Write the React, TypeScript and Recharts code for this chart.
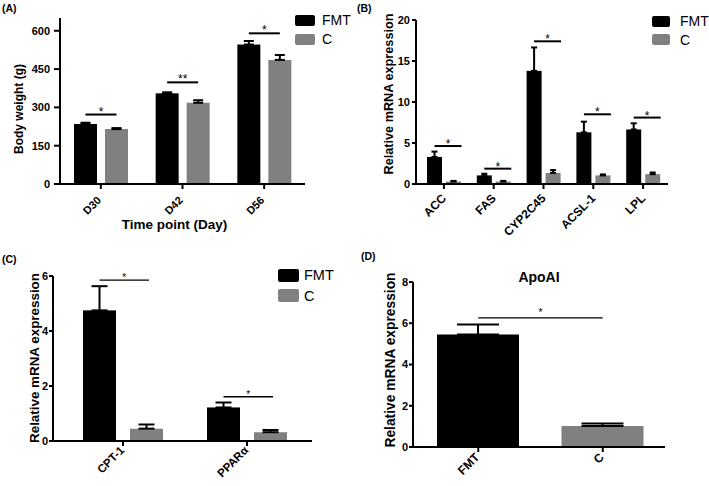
import React from 'react';
import { BarChart, Bar, XAxis, YAxis, ErrorBar, Legend, ReferenceLine, Cell } from 'recharts';

const FONT = '"Liberation Sans", Arial, sans-serif';
const FMT_COLOR = '#000000';
const C_COLOR = '#808080';
const seriesOrder = ['FMT', 'C'];

// (A) body weight by time point
const daysA = ['D30', 'D42', 'D56'];
const fmtA = [235, 355, 546];
const fmtErrA = [5, 4, 14];
const ctrlA = [215, 318, 486];
const ctrlErrA = [4, 10, 19];
const sigA = [272, 398, 590];
const starsA = ['*', '**', '*'];
const ticksA = [0, 150, 300, 450, 600];

// (B) lipogenic genes
const genesB = ['ACC', 'FAS', 'CYP2C45', 'ACSL-1', 'LPL'];
const fmtB = [3.3, 1.05, 13.8, 6.3, 6.65];
const fmtErrB = [0.65, 0.2, 2.85, 1.3, 0.75];
const ctrlB = [0.3, 0.3, 1.35, 1.05, 1.2];
const ctrlErrB = [0.08, 0.08, 0.35, 0.12, 0.2];
const sigB = [4.63, 1.87, 17.4, 8.5, 8.1];
const starsB = ['*', '*', '*', '*', '*'];
const ticksB = [0, 5, 10, 15, 20];

// (C) oxidation genes
const genesC = ['CPT-1', 'PPARα'];
const fmtC = [4.75, 1.22];
const fmtErrC = [0.88, 0.18];
const ctrlC = [0.45, 0.32];
const ctrlErrC = [0.15, 0.08];
const sigC = [5.85, 1.61];
const starsC = ['*', '*'];
const ticksC = [0, 2, 4, 6];

// (D) ApoAI
const groupsD = ['FMT', 'C'];
const apoD = [5.45, 1.02];
const apoErrD = [0.49, 0.12];
const sigD = 6.26;
const ticksD = [0, 2, 4, 6, 8];

const rows = (names: string[], f: number[], fe: number[], c: number[], ce: number[], sig: number[], stars: string[]) =>
  names.map((name, i) => ({
    name,
    fmt: f[i],
    fmtErr: [0, fe[i]],
    c: c[i],
    cErr: [0, ce[i]],
    sig: sig[i],
    star: stars[i],
  }));

const dataA = rows(daysA, fmtA, fmtErrA, ctrlA, ctrlErrA, sigA, starsA);
const dataB = rows(genesB, fmtB, fmtErrB, ctrlB, ctrlErrB, sigB, starsB);
const dataC = rows(genesC, fmtC, fmtErrC, ctrlC, ctrlErrC, sigC, starsC);
const dataD = groupsD.map((name, i) => ({ name, value: apoD[i], err: [0, apoErrD[i]] }));

// FMT bar + significance bracket drawn from the bar's own scale
const sigShape = (gap: number, extra: number, sw: number, fs: number, lift: number) => (props: any) => {
  const { x, y, width, height, payload, fill } = props;
  const k = height / payload.fmt;
  const ly = y + height - payload.sig * k;
  const x1 = x + width / 2;
  const x2 = x1 + width + gap + extra;
  return (
    <g>
      <rect x={x} y={y} width={width} height={height} fill={fill} />
      <line x1={x1} x2={x2} y1={ly} y2={ly} stroke="#000" strokeWidth={sw} />
      <text x={(x1 + x2) / 2} y={ly - lift} textAnchor="middle" fontSize={fs} fontFamily={FONT} fill="#000">
        {payload.star}
      </text>
    </g>
  );
};

const angledTick = (fs: number, dx: number, dy: number) => (props: any) => {
  const { x, y, payload } = props;
  const px = x + dx;
  const py = y + dy;
  return (
    <text x={px} y={py} transform={`rotate(-45 ${px} ${py})`} textAnchor="end" fontSize={fs}
      fontWeight="bold" fontFamily={FONT} fill="#000">
      {payload.value}
    </text>
  );
};

const legendContent = (w: number, h: number, gap: number, pitch: number, fs: number) => (props: any) => {
  const items = [...(props.payload || [])].sort(
    (a: any, b: any) => seriesOrder.indexOf(a.value) - seriesOrder.indexOf(b.value)
  );
  return (
    <div style={{ fontFamily: FONT }}>
      {items.map((p: any) => (
        <div key={p.value} style={{ display: 'flex', alignItems: 'center', height: pitch }}>
          <div style={{ width: w, height: h, background: p.color, borderRadius: 2, marginRight: gap }} />
          <span style={{ fontSize: fs, lineHeight: `${pitch}px`, color: '#000' }}>{p.value}</span>
        </div>
      ))}
    </div>
  );
};

const axisStyle = { stroke: '#000', strokeWidth: 2 };
const yTick = { fontSize: 11, fontWeight: 'bold', fill: '#000', fontFamily: FONT };

const Txt = ({ text, left, top, fs, rotate }: { text: string; left: number; top: number; fs: number; rotate?: boolean }) => (
  <div
    style={{
      position: 'absolute',
      left,
      top,
      fontSize: fs,
      lineHeight: `${fs}px`,
      fontWeight: 'bold',
      fontFamily: FONT,
      whiteSpace: 'nowrap',
      color: '#000',
      transform: rotate ? 'translate(-50%, -50%) rotate(-90deg)' : 'translateX(-50%)',
    }}
  >
    {text}
  </div>
);

const Letter = ({ text, left, top }: { text: string; left: number; top: number }) => (
  <div style={{ position: 'absolute', left, top, fontSize: 10.5, lineHeight: '10.5px', fontWeight: 'bold', fontFamily: FONT }}>
    {text}
  </div>
);

export default function App() {
  return (
    <div style={{ position: 'absolute', left: 0, top: 0, width: 709, height: 486, background: '#fff', overflow: 'hidden' }}>
      {/* (A) */}
      <div style={{ position: 'absolute', left: 0, top: 0 }}>
        <BarChart width={360} height={240} data={dataA} margin={{ top: 18, right: 55, bottom: 0, left: 0 }} barSize={23} barGap={8}>
          <XAxis dataKey="name" height={56} interval={0} tickSize={5} axisLine={axisStyle} tickLine={axisStyle}
            tick={angledTick(11, 1, 10)} />
          <YAxis width={60} domain={[0, 650]} ticks={ticksA} tickSize={6} tickMargin={4} axisLine={axisStyle}
            tickLine={axisStyle} tick={yTick} />
          <Legend layout="vertical" align="center" verticalAlign="middle" content={legendContent(20, 11, 7, 19, 14)}
            wrapperStyle={{ left: 295, top: 11, width: 'auto', height: 'auto' }} />
          <Bar dataKey="fmt" name="FMT" fill={FMT_COLOR} isAnimationActive={false} shape={sigShape(8, 0, 2, 12, -1)}>
            <ErrorBar dataKey="fmtErr" width={5} strokeWidth={2} stroke="#000" />
          </Bar>
          <Bar dataKey="c" name="C" fill={C_COLOR} isAnimationActive={false}>
            <ErrorBar dataKey="cErr" width={5} strokeWidth={2} stroke="#000" />
          </Bar>
        </BarChart>
      </div>
      <Letter text="(A)" left={2} top={2.5} />
      <Txt text="Body weight (g)" left={19} top={109} fs={12} rotate />
      <Txt text="Time point (Day)" left={174.5} top={217.5} fs={13.5} />

      {/* (B) */}
      <div style={{ position: 'absolute', left: 355, top: 0 }}>
        <BarChart width={354} height={240} data={dataB} margin={{ top: 20, right: 41, bottom: 0, left: 0 }} barSize={15} barGap={4}>
          <XAxis dataKey="name" height={56} interval={0} tickSize={5} padding={{ left: 3, right: 0 }} axisLine={axisStyle}
            tickLine={axisStyle} tick={angledTick(12, 3, 8)} />
          <YAxis width={61} domain={[0, 20]} ticks={ticksB} tickSize={4} tickMargin={2} axisLine={axisStyle}
            tickLine={axisStyle} tick={yTick} />
          <Legend layout="vertical" align="center" verticalAlign="middle" content={legendContent(18, 11, 10, 18.5, 14)}
            wrapperStyle={{ left: 297, top: 12, width: 'auto', height: 'auto' }} />
          <Bar dataKey="fmt" name="FMT" fill={FMT_COLOR} isAnimationActive={false} shape={sigShape(4, 8, 2, 12, -2)}>
            <ErrorBar dataKey="fmtErr" width={3} strokeWidth={2} stroke="#000" />
          </Bar>
          <Bar dataKey="c" name="C" fill={C_COLOR} isAnimationActive={false}>
            <ErrorBar dataKey="cErr" width={3} strokeWidth={2} stroke="#000" />
          </Bar>
        </BarChart>
      </div>
      <Letter text="(B)" left={357} top={2.5} />
      <Txt text="Relative mRNA expression" left={388.5} top={94} fs={12.7} rotate />

      {/* (C) */}
      <div style={{ position: 'absolute', left: 0, top: 240 }}>
        <BarChart width={355} height={246} data={dataC} margin={{ top: 36, right: 43, bottom: 0, left: 0 }} barSize={33} barGap={14}>
          <XAxis dataKey="name" height={45} interval={0} tickSize={5} padding={{ left: 8, right: 3 }} axisLine={axisStyle}
            tickLine={axisStyle} tick={angledTick(11.5, 2, 3)} />
          <YAxis width={53} domain={[0, 6]} ticks={ticksC} tickSize={4} tickMargin={1} axisLine={axisStyle}
            tickLine={axisStyle} tick={yTick} />
          <Legend layout="vertical" align="center" verticalAlign="middle" content={legendContent(21, 13, 5, 20.5, 14.5)}
            wrapperStyle={{ left: 278, top: 25, width: 'auto', height: 'auto' }} />
          <Bar dataKey="fmt" name="FMT" fill={FMT_COLOR} isAnimationActive={false} shape={sigShape(14, 2.5, 1.3, 10, -1.3)}>
            <ErrorBar dataKey="fmtErr" width={8} strokeWidth={2} stroke="#000" />
          </Bar>
          <Bar dataKey="c" name="C" fill={C_COLOR} isAnimationActive={false}>
            <ErrorBar dataKey="cErr" width={8} strokeWidth={2} stroke="#000" />
          </Bar>
        </BarChart>
      </div>
      <Letter text="(C)" left={2} top={254} />
      <Txt text="Relative mRNA expression" left={35} top={357.5} fs={13.4} rotate />

      {/* (D) */}
      <div style={{ position: 'absolute', left: 355, top: 240 }}>
        <BarChart width={354} height={246} data={dataD} margin={{ top: 42, right: 44, bottom: 0, left: 0 }} barSize={82}>
          <XAxis dataKey="name" height={39} interval={0} tickSize={5} padding={{ left: 3, right: 0 }} axisLine={axisStyle}
            tickLine={axisStyle} tick={angledTick(12, 2, 4)} />
          <YAxis width={58} domain={[0, 8]} ticks={ticksD} tickSize={4} tickMargin={1} axisLine={axisStyle}
            tickLine={axisStyle} tick={yTick} />
          <Bar dataKey="value" isAnimationActive={false}>
            {dataD.map((d, i) => (
              <Cell key={d.name} fill={i === 0 ? FMT_COLOR : C_COLOR} />
            ))}
            <ErrorBar dataKey="err" width={21} strokeWidth={2} stroke="#000" />
          </Bar>
          <ReferenceLine segment={[{ x: 'FMT', y: sigD }, { x: 'C', y: sigD }]} stroke="#000" strokeWidth={1.2}
            label={{ value: '*', position: 'top', offset: 1.4, fontSize: 10, fill: '#000', fontFamily: FONT }} />
        </BarChart>
      </div>
      <Letter text="(D)" left={361} top={251} />
      <Txt text="ApoAI" left={539} top={270} fs={14} />
      <Txt text="Relative mRNA expression" left={391} top={360} fs={13.8} rotate />
    </div>
  );
}
